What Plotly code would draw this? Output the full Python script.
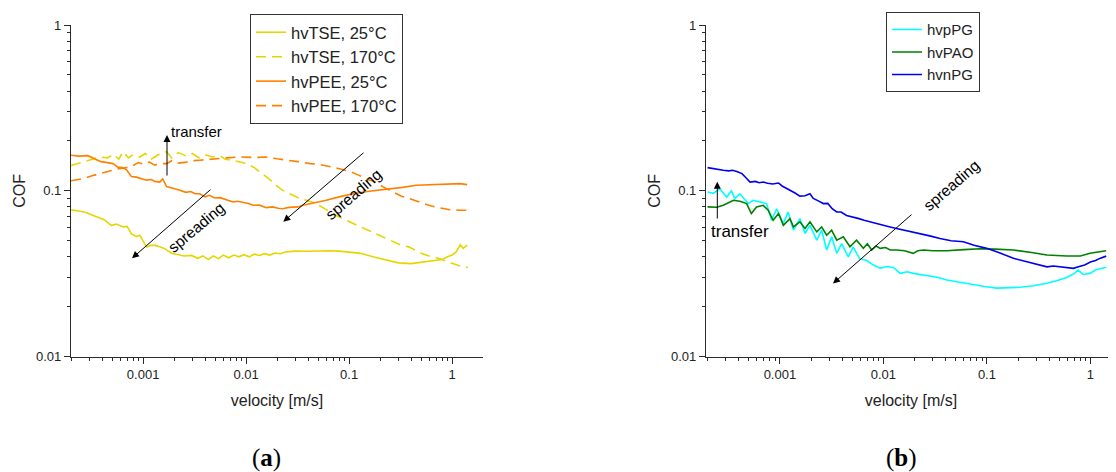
import plotly.graph_objects as go

# ---------------- panel (a) data ----------------
tse25_v = [2.0e-4, 2.4e-4, 2.7e-4, 3.1e-4, 3.7e-4, 4.2e-4, 4.9e-4, 5.5e-4, 6.4e-4, 7.0e-4,
           7.7e-4, 8.6e-4, 9.3e-4, 1.0e-3, 1.08e-3, 1.2e-3, 1.3e-3, 1.45e-3, 1.62e-3, 1.88e-3,
           2.17e-3, 2.5e-3, 2.95e-3, 3.4e-3, 3.8e-3, 4.3e-3, 4.8e-3, 5.4e-3, 6.0e-3, 6.8e-3,
           7.6e-3, 8.5e-3, 9.5e-3, 0.0107, 0.012, 0.0135, 0.015, 0.017, 0.019, 0.0215,
           0.024, 0.03, 0.04, 0.05, 0.065, 0.08, 0.1, 0.13, 0.17, 0.22,
           0.3, 0.4, 0.5, 0.6, 0.7, 0.8, 0.9, 1.0, 1.1, 1.2, 1.28, 1.4]
tse25_cof = [0.077, 0.075, 0.0745, 0.072, 0.069, 0.067, 0.062, 0.063, 0.0605, 0.061,
             0.055, 0.053, 0.054, 0.050, 0.0458, 0.047, 0.0469, 0.046, 0.0448, 0.0421,
             0.0414, 0.0405, 0.0408, 0.0392, 0.0405, 0.0385, 0.0405, 0.039, 0.041, 0.0395,
             0.041, 0.040, 0.0412, 0.040, 0.0415, 0.0408, 0.0418, 0.041, 0.0422, 0.0418,
             0.0428, 0.0433, 0.0432, 0.0435, 0.0435, 0.0433, 0.0428, 0.042, 0.040, 0.0385,
             0.0368, 0.0364, 0.037, 0.0375, 0.038, 0.0385, 0.040, 0.041, 0.043, 0.0473, 0.045, 0.047]

tse170_v = [2.0e-4, 2.5e-4, 3.0e-4, 3.8e-4, 4.5e-4, 5.2e-4, 5.8e-4, 6.4e-4, 7.2e-4, 8.0e-4,
            9.3e-4, 1.05e-3, 1.2e-3, 1.4e-3, 1.69e-3, 1.9e-3, 2.2e-3, 2.63e-3, 3.0e-3, 3.5e-3,
            4.0e-3, 4.74e-3, 5.5e-3, 6.3e-3, 7.4e-3, 8.5e-3, 0.0101, 0.012, 0.0145, 0.017,
            0.0196, 0.0225, 0.0264, 0.032, 0.0385, 0.048, 0.06, 0.075, 0.094, 0.12,
            0.15, 0.183, 0.25, 0.32, 0.385, 0.5, 0.63, 0.76, 0.95, 1.15, 1.42]
tse170_cof = [0.142, 0.148, 0.152, 0.16, 0.158, 0.166, 0.155, 0.172, 0.158, 0.165,
              0.16, 0.168, 0.155, 0.165, 0.172, 0.158, 0.17, 0.162, 0.168, 0.158,
              0.165, 0.16, 0.163, 0.155, 0.153, 0.15, 0.146, 0.138, 0.127, 0.117,
              0.108, 0.101, 0.0962, 0.091, 0.0877, 0.0837, 0.077, 0.071, 0.0664, 0.062,
              0.058, 0.0552, 0.050, 0.047, 0.0458, 0.042, 0.040, 0.039, 0.037, 0.0355, 0.0345]

pee25_v = [2.0e-4, 2.4e-4, 2.9e-4, 3.3e-4, 3.9e-4, 4.5e-4, 5.1e-4, 5.7e-4, 6.3e-4, 6.9e-4,
           7.7e-4, 8.6e-4, 9.5e-4, 1.08e-3, 1.2e-3, 1.3e-3, 1.45e-3, 1.55e-3, 1.69e-3, 1.85e-3,
           2.03e-3, 2.27e-3, 2.6e-3, 2.9e-3, 3.2e-3, 3.55e-3, 4.0e-3, 4.4e-3, 4.96e-3, 5.6e-3,
           6.5e-3, 7.45e-3, 8.3e-3, 9.5e-3, 0.0105, 0.0117, 0.0135, 0.0157, 0.018, 0.0205,
           0.0227, 0.026, 0.0284, 0.032, 0.0357, 0.0479, 0.060, 0.08, 0.109, 0.15,
           0.197, 0.25, 0.33, 0.45, 0.61, 0.8, 0.98, 1.2, 1.4]
pee25_cof = [0.164, 0.162, 0.163, 0.157, 0.150, 0.148, 0.146, 0.139, 0.138, 0.134,
             0.122, 0.121, 0.119, 0.116, 0.117, 0.114, 0.113, 0.118, 0.106, 0.105,
             0.103, 0.1007, 0.098, 0.099, 0.096, 0.096, 0.092, 0.094, 0.0905, 0.091,
             0.088, 0.0856, 0.0865, 0.085, 0.084, 0.0818, 0.082, 0.0792, 0.080, 0.0785,
             0.078, 0.0795, 0.0799, 0.080, 0.0818, 0.085, 0.0877, 0.092, 0.096, 0.099,
             0.1007, 0.103, 0.105, 0.108, 0.109, 0.1095, 0.110, 0.1105, 0.109]

pee170_v = [2.0e-4, 2.4e-4, 2.7e-4, 3.3e-4, 4.0e-4, 4.8e-4, 5.8e-4, 6.9e-4, 8.0e-4, 9.0e-4,
            1.0e-3, 1.15e-3, 1.3e-3, 1.5e-3, 1.69e-3, 1.9e-3, 2.2e-3, 2.63e-3, 3.0e-3, 3.55e-3,
            4.2e-3, 5.16e-3, 6.5e-3, 8.7e-3, 0.012, 0.0157, 0.020, 0.0246, 0.032, 0.042,
            0.052, 0.0696, 0.085, 0.101, 0.125, 0.147, 0.18, 0.212, 0.27, 0.32,
            0.385, 0.5, 0.63, 0.76, 0.95, 1.15, 1.4]
pee170_cof = [0.115, 0.117, 0.119, 0.124, 0.128, 0.133, 0.136, 0.138, 0.142, 0.148,
              0.145, 0.149, 0.143, 0.146, 0.146, 0.152, 0.147, 0.149, 0.152, 0.153,
              0.155, 0.156, 0.158, 0.160, 0.159, 0.160, 0.156, 0.154, 0.150, 0.146,
              0.144, 0.139, 0.135, 0.131, 0.124, 0.118, 0.113, 0.106, 0.098, 0.093,
              0.0897, 0.085, 0.081, 0.079, 0.077, 0.0765, 0.0763]

# ---------------- panel (b) data ----------------
ppg_v = [2.0e-4, 2.27e-4, 2.63e-4, 3.06e-4, 3.4e-4, 3.66e-4, 4.1e-4, 4.5e-4, 4.95e-4, 5.5e-4,
         6.4e-4, 7.45e-4, 8.3e-4, 9.3e-4, 1.08e-3, 1.2e-3, 1.35e-3, 1.56e-3, 1.75e-3, 1.95e-3,
         2.27e-3, 2.53e-3, 2.83e-3, 3.16e-3, 3.54e-3, 3.95e-3, 4.58e-3, 5.1e-3, 5.9e-3, 6.9e-3,
         8.0e-3, 9.3e-3, 0.0108, 0.0125, 0.0145, 0.017, 0.0195, 0.0226, 0.0283, 0.034,
         0.041, 0.055, 0.074, 0.095, 0.124, 0.16, 0.21, 0.28, 0.38, 0.48,
         0.59, 0.7, 0.76, 0.85, 0.99, 1.12, 1.25, 1.42]
ppg_cof = [0.0984, 0.0966, 0.103, 0.0917, 0.100, 0.0897, 0.096, 0.090, 0.0838, 0.0877,
           0.086, 0.0838, 0.0665, 0.078, 0.0635, 0.0746, 0.058, 0.0681, 0.0553, 0.062,
           0.0504, 0.058, 0.044, 0.0528, 0.042, 0.048, 0.040, 0.0458, 0.039, 0.038,
           0.0357, 0.0342, 0.035, 0.0345, 0.0318, 0.0325, 0.0318, 0.0313, 0.0305, 0.030,
           0.029, 0.028, 0.0271, 0.0265, 0.0259, 0.026, 0.0262, 0.0268, 0.0277, 0.0288,
           0.030, 0.0318, 0.0333, 0.0313, 0.0318, 0.0333, 0.034, 0.0346]

pao_v = [2.0e-4, 2.45e-4, 2.84e-4, 3.2e-4, 3.56e-4, 4.1e-4, 4.77e-4, 5.3e-4, 5.95e-4, 6.9e-4,
         7.7e-4, 8.6e-4, 9.7e-4, 1.08e-3, 1.25e-3, 1.35e-3, 1.56e-3, 1.75e-3, 1.95e-3, 2.27e-3,
         2.53e-3, 2.83e-3, 3.16e-3, 3.54e-3, 4.1e-3, 4.75e-3, 5.5e-3, 6.4e-3, 7.0e-3, 7.7e-3,
         8.5e-3, 9.3e-3, 0.0105, 0.0116, 0.0134, 0.016, 0.0194, 0.0215, 0.0244, 0.03,
         0.041, 0.06, 0.086, 0.12, 0.18, 0.27, 0.38, 0.59, 0.8, 0.99, 1.2, 1.42]
pao_cof = [0.080, 0.0797, 0.0818, 0.085, 0.0877, 0.0866, 0.0838, 0.073, 0.080, 0.0818,
           0.0764, 0.0665, 0.073, 0.062, 0.068, 0.0606, 0.065, 0.0593, 0.065, 0.0566,
           0.0606, 0.054, 0.058, 0.0504, 0.0528, 0.046, 0.0504, 0.045, 0.048, 0.044,
           0.0465, 0.045, 0.0455, 0.044, 0.044, 0.0435, 0.042, 0.0435, 0.044, 0.0435,
           0.0435, 0.0442, 0.0448, 0.0445, 0.044, 0.0425, 0.041, 0.0405, 0.0405, 0.042, 0.0428, 0.0435]

npg_v = [2.0e-4, 2.4e-4, 2.84e-4, 3.2e-4, 3.5e-4, 3.83e-4, 4.3e-4, 4.7e-4, 5.15e-4, 5.8e-4,
         6.3e-4, 6.9e-4, 7.6e-4, 8.5e-4, 9.7e-4, 1.05e-3, 1.15e-3, 1.25e-3, 1.4e-3, 1.56e-3,
         1.75e-3, 1.95e-3, 2.1e-3, 2.35e-3, 2.63e-3, 2.9e-3, 3.2e-3, 3.54e-3, 3.9e-3, 4.4e-3,
         5.1e-3, 5.8e-3, 6.5e-3, 7.4e-3, 8.3e-3, 9.3e-3, 0.0104, 0.0116, 0.0134, 0.016,
         0.019, 0.0226, 0.028, 0.0352, 0.045, 0.0592, 0.075, 0.0995, 0.13, 0.18,
         0.25, 0.326, 0.38, 0.438, 0.55, 0.684, 0.78, 0.88, 1.0, 1.12, 1.25, 1.42]
npg_cof = [0.138, 0.135, 0.133, 0.132, 0.133, 0.131, 0.127, 0.120, 0.113, 0.114,
           0.112, 0.113, 0.111, 0.110, 0.1115, 0.107, 0.104, 0.1007, 0.097, 0.093,
           0.0935, 0.096, 0.090, 0.087, 0.0838, 0.084, 0.078, 0.0746, 0.0745, 0.071,
           0.0696, 0.068, 0.0665, 0.065, 0.064, 0.0625, 0.0615, 0.0606, 0.0593, 0.058,
           0.0565, 0.0553, 0.0535, 0.0516, 0.050, 0.0493, 0.047, 0.045, 0.0425, 0.0392,
           0.0372, 0.0357, 0.0348, 0.0352, 0.0345, 0.0341, 0.035, 0.0357, 0.0372, 0.038, 0.0393, 0.0404]

# ---------------- tick labels ----------------
x_tickvals = [0.001, 0.01, 0.1, 1]
x_ticktext = ["0.001", "0.01", "0.1", "1"]
y_tickvals = [0.01, 0.1, 1]
y_ticktext = ["0.01", "0.1", "1"]

# page body has an 8px default margin: shrink the figure and shift all pixel positions
OFF = 8
W, H = 1116 - OFF, 472 - OFF
YELLOW = "#E6D600"
ORANGE = "#FF8000"
CYAN = "#00FFFF"
GREEN = "#008000"
BLUE = "#0000F0"
FONT = "Liberation Sans, Arial, sans-serif"
AX = "#2b2b2b"


def fx(x):
    return (x - OFF) / W


def fy(y):
    return 1 - (y - OFF) / H


fig = go.Figure()


def add(v, c, name, color, dash, xa, ya, leg):
    fig.add_trace(go.Scatter(x=v, y=c, mode="lines", name=name,
                             line=dict(color=color, width=1.6, dash=dash),
                             xaxis=xa, yaxis=ya, legend=leg))


add(tse25_v, tse25_cof, "hvTSE, 25°C", YELLOW, "solid", "x", "y", "legend")
add(tse170_v, tse170_cof, "hvTSE, 170°C", YELLOW, "10px,6px", "x", "y", "legend")
add(pee25_v, pee25_cof, "hvPEE, 25°C", ORANGE, "solid", "x", "y", "legend")
add(pee170_v, pee170_cof, "hvPEE, 170°C", ORANGE, "10px,6px", "x", "y", "legend")
add(ppg_v, ppg_cof, "hvpPG", CYAN, "solid", "x2", "y2", "legend2")
add(pao_v, pao_cof, "hvPAO", GREEN, "solid", "x2", "y2", "legend2")
add(npg_v, npg_cof, "hvnPG", BLUE, "solid", "x2", "y2", "legend2")

minor_x = [m * 10.0 ** e for e in range(-4, 1) for m in range(2, 10)]
minor_y = [m * 10.0 ** e for e in range(-2, 0) for m in range(2, 10)]


def xaxis(dom, rng, anchor):
    return dict(type="log", domain=dom, range=rng, anchor=anchor, automargin=False,
                showline=True, linecolor=AX, linewidth=1.2,
                ticks="outside", ticklen=6, tickwidth=1.1, tickcolor=AX,
                tickmode="array", tickvals=x_tickvals, ticktext=x_ticktext,
                minor=dict(tickmode="array", tickvals=minor_x, ticks="outside", ticklen=3,
                           tickwidth=1, tickcolor=AX, showgrid=False),
                showgrid=False, zeroline=False, mirror=False,
                tickfont=dict(family=FONT, size=13, color="#222"),
                title=dict(text="velocity [m/s]", font=dict(family=FONT, size=16, color="#222"),
                           standoff=13))


def yaxis(anchor):
    return dict(type="log", domain=[fy(356.7), fy(25)], range=[-2, 0], anchor=anchor,
                automargin=False, showline=True, linecolor=AX, linewidth=1.2,
                ticks="outside", ticklen=6, tickwidth=1.1, tickcolor=AX,
                tickmode="array", tickvals=y_tickvals, ticktext=y_ticktext,
                minor=dict(tickmode="array", tickvals=minor_y, ticks="outside", ticklen=3,
                           tickwidth=1, tickcolor=AX, showgrid=False),
                showgrid=False, zeroline=False, mirror=False,
                tickfont=dict(family=FONT, size=13, color="#222"),
                title=dict(text="COF", font=dict(family=FONT, size=16, color="#222"), standoff=6))


leg_common = dict(xanchor="left", yanchor="top", bgcolor="white", bordercolor="#333",
                  borderwidth=1, tracegroupgap=0, itemwidth=30)

anns = []


def arrow(head, tail):
    anns.append(dict(x=fx(head[0]), y=fy(head[1]), xref="paper", yref="paper", text="",
                     showarrow=True, ax=tail[0] - head[0], ay=tail[1] - head[1],
                     axref="pixel", ayref="pixel",
                     arrowhead=2, arrowsize=1.4, arrowwidth=1, arrowcolor="black"))


def label(pos, text, size, angle=0, xanchor="center"):
    anns.append(dict(x=fx(pos[0]), y=fy(pos[1]), xref="paper", yref="paper", text=text,
                     showarrow=False, textangle=angle, xanchor=xanchor, yanchor="middle",
                     font=dict(family=FONT, size=size, color="black")))


# panel (a)
arrow((167, 135), (167, 177))
label((169, 131), "transfer", 15, xanchor="left")
arrow((132, 258.3), (212, 188.3))
label((196, 227), "spreading", 15.5, angle=-40)
arrow((283.3, 221.7), (365, 151.5))
label((353, 194), "spreading", 15.5, angle=-41)
# panel (b)
arrow((717.3, 181.7), (717.3, 220))
label((709, 231.5), "transfer", 17, xanchor="left")
arrow((833, 283.5), (913, 213.3))
label((951, 185), "spreading", 15.5, angle=-41)

# sub-figure labels
for pos, t in [((266, 458), "(<b>a</b>)"), ((901, 458), "(<b>b</b>)")]:
    anns.append(dict(x=fx(pos[0]), y=fy(pos[1]), xref="paper", yref="paper", text=t,
                     showarrow=False, xanchor="center", yanchor="middle",
                     font=dict(family="Liberation Serif, DejaVu Serif, serif", size=25,
                               color="black")))

fig.update_layout(
    width=W, height=H, margin=dict(l=0, r=0, t=0, b=0, autoexpand=False),
    paper_bgcolor="white", plot_bgcolor="white", showlegend=True,
    xaxis=xaxis([fx(71), fx(483)], [-3.70, 0.30], "y"),
    yaxis=yaxis("x"),
    xaxis2=xaxis([fx(706), 1.0], [-3.714, 0.247], "y2"),
    yaxis2=yaxis("x2"),
    legend=dict(x=fx(250), y=fy(14), font=dict(family=FONT, size=16.5, color="#222"), **leg_common),
    legend2=dict(x=fx(886), y=fy(12.3), font=dict(family=FONT, size=15, color="#222"), **leg_common),
    annotations=anns,
)

fig.write_html("out.html")
